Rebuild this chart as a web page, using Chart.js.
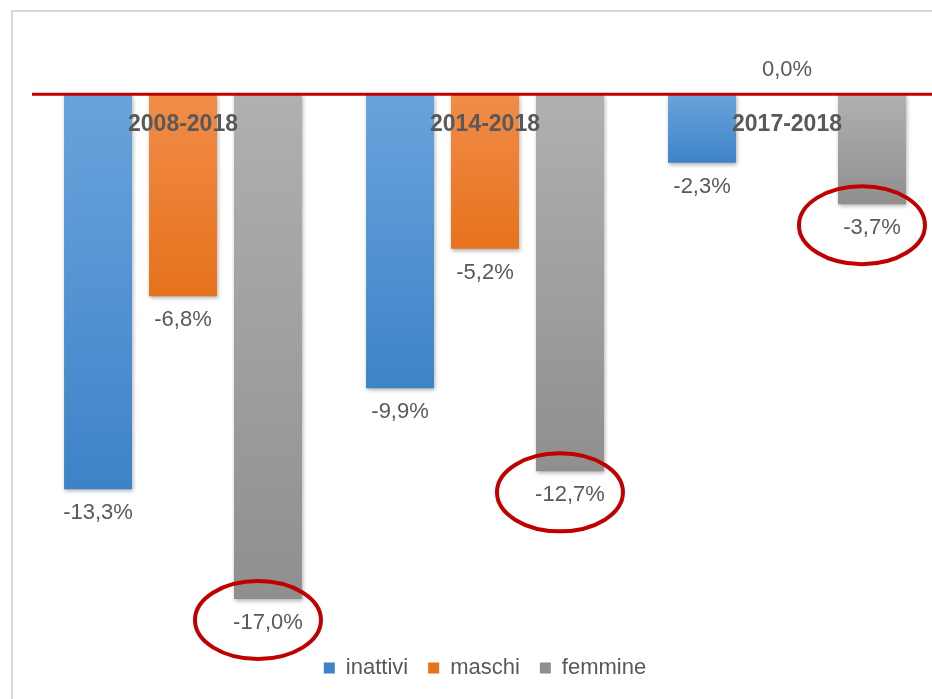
<!DOCTYPE html>
<html>
<head>
<meta charset="utf-8">
<script src="https://cdn.jsdelivr.net/npm/chart.js@4"></script>
<style>
  body { margin: 0; width: 932px; height: 699px; overflow: hidden; position: relative; background: #fff; }
  #frame { position: absolute; left: 11px; top: 10px; width: 1000px; height: 800px; border: 2px solid #d9d9d9; }
  #wrap { position: absolute; left: 0; top: 0; width: 950px; height: 699px; }
</style>
</head>
<body>
<div id="frame"></div>
<div id="wrap"><canvas id="grafico"></canvas></div>
<script>
const periodi = ['2008-2018', '2014-2018', '2017-2018'];
const inattivi = [-13.3, -9.9, -2.3];
const maschi = [-6.8, -5.2, 0.0];
const femmine = [-17.0, -12.7, -3.7];
// barre da cerchiare in rosso: [dataset, indice]
const cerchiati = [[2, 0], [2, 1], [2, 2]];

const FONT = "'Liberation Sans', Arial, sans-serif";

function sfumatura(alto, basso, pieno) {
  return function (context) {
    if (context.type !== 'data') return pieno;
    const chart = context.chart;
    const y = chart.scales.y;
    if (!y) return pieno;
    const y0 = y.getPixelForValue(0);
    const y1 = y.getPixelForValue(context.parsed ? context.parsed.y : 0);
    if (!isFinite(y0) || !isFinite(y1) || Math.abs(y1 - y0) < 1) return pieno;
    const g = chart.ctx.createLinearGradient(0, y0, 0, y1);
    g.addColorStop(0, alto);
    g.addColorStop(1, basso);
    return g;
  };
}

const ombra = {
  id: 'ombra',
  beforeDatasetsDraw(chart) {
    const ctx = chart.ctx;
    ctx.save();
    ctx.shadowColor = 'rgba(0,0,0,0.3)';
    ctx.shadowBlur = 4;
    ctx.shadowOffsetX = 1;
    ctx.shadowOffsetY = 2;
  },
  afterDatasetsDraw(chart) {
    chart.ctx.restore();
  }
};

const etichette = {
  id: 'etichette',
  afterDatasetsDraw(chart) {
    const ctx = chart.ctx;
    const x = chart.scales.x;
    const y = chart.scales.y;
    const y0 = y.getPixelForValue(0);

    // linea dello zero
    ctx.save();
    ctx.strokeStyle = '#c00000';
    ctx.lineWidth = 3;
    ctx.beginPath();
    ctx.moveTo(chart.chartArea.left, y0);
    ctx.lineTo(chart.chartArea.right, y0);
    ctx.stroke();

    // valori
    ctx.fillStyle = '#595959';
    ctx.font = '22px ' + FONT;
    ctx.textAlign = 'center';
    ctx.textBaseline = 'middle';
    chart.data.datasets.forEach((ds, i) => {
      chart.getDatasetMeta(i).data.forEach((bar, j) => {
        const v = ds.data[j];
        const testo = v.toFixed(1).replace('.', ',') + '%';
        const ty = v < 0 ? bar.y + 24 : bar.y - 24;
        ctx.fillText(testo, bar.x, ty);
      });
    });

    // etichette categorie
    ctx.font = 'bold 23px ' + FONT;
    periodi.forEach((p, i) => {
      ctx.fillText(p, x.getPixelForValue(i), y0 + 30);
    });

    // ellissi rosse
    ctx.strokeStyle = '#c00000';
    ctx.lineWidth = 4;
    cerchiati.forEach(([d, j]) => {
      const bar = chart.getDatasetMeta(d).data[j];
      ctx.beginPath();
      ctx.ellipse(bar.x - 10, bar.y + 21, 63, 39, 0, 0, Math.PI * 2);
      ctx.stroke();
    });
    ctx.restore();
  }
};

document.addEventListener('DOMContentLoaded', function () {
  const ctx = document.getElementById('grafico').getContext('2d');

  new Chart(ctx, {
    type: 'bar',
    data: {
      labels: periodi,
      datasets: [
        {
          label: 'inattivi',
          data: inattivi,
          backgroundColor: sfumatura('#6aa3dc', '#3d83c8', '#4a8fd5'),
          borderWidth: 0
        },
        {
          label: 'maschi',
          data: maschi,
          backgroundColor: sfumatura('#f28c48', '#e6721c', '#ed7d31'),
          borderWidth: 0
        },
        {
          label: 'femmine',
          data: femmine,
          backgroundColor: sfumatura('#b0b0b0', '#8f8f8f', '#a5a5a5'),
          borderWidth: 0
        }
      ]
    },
    options: {
      responsive: true,
      maintainAspectRatio: false,
      animation: false,
      events: [],
      categoryPercentage: 0.844,
      barPercentage: 0.8,
      layout: {
        padding: { left: 32, right: 12, top: 35, bottom: 10 }
      },
      scales: {
        x: { display: false },
        y: { display: false, min: -18.28, max: 2 }
      },
      plugins: {
        legend: {
          display: true,
          position: 'bottom',
          labels: {
            boxWidth: 11,
            boxHeight: 11,
            padding: 20,
            color: '#595959',
            font: { family: FONT, size: 22 }
          }
        },
        tooltip: { enabled: false }
      }
    },
    plugins: [ombra, etichette]
  });
});
</script>
</body>
</html>
